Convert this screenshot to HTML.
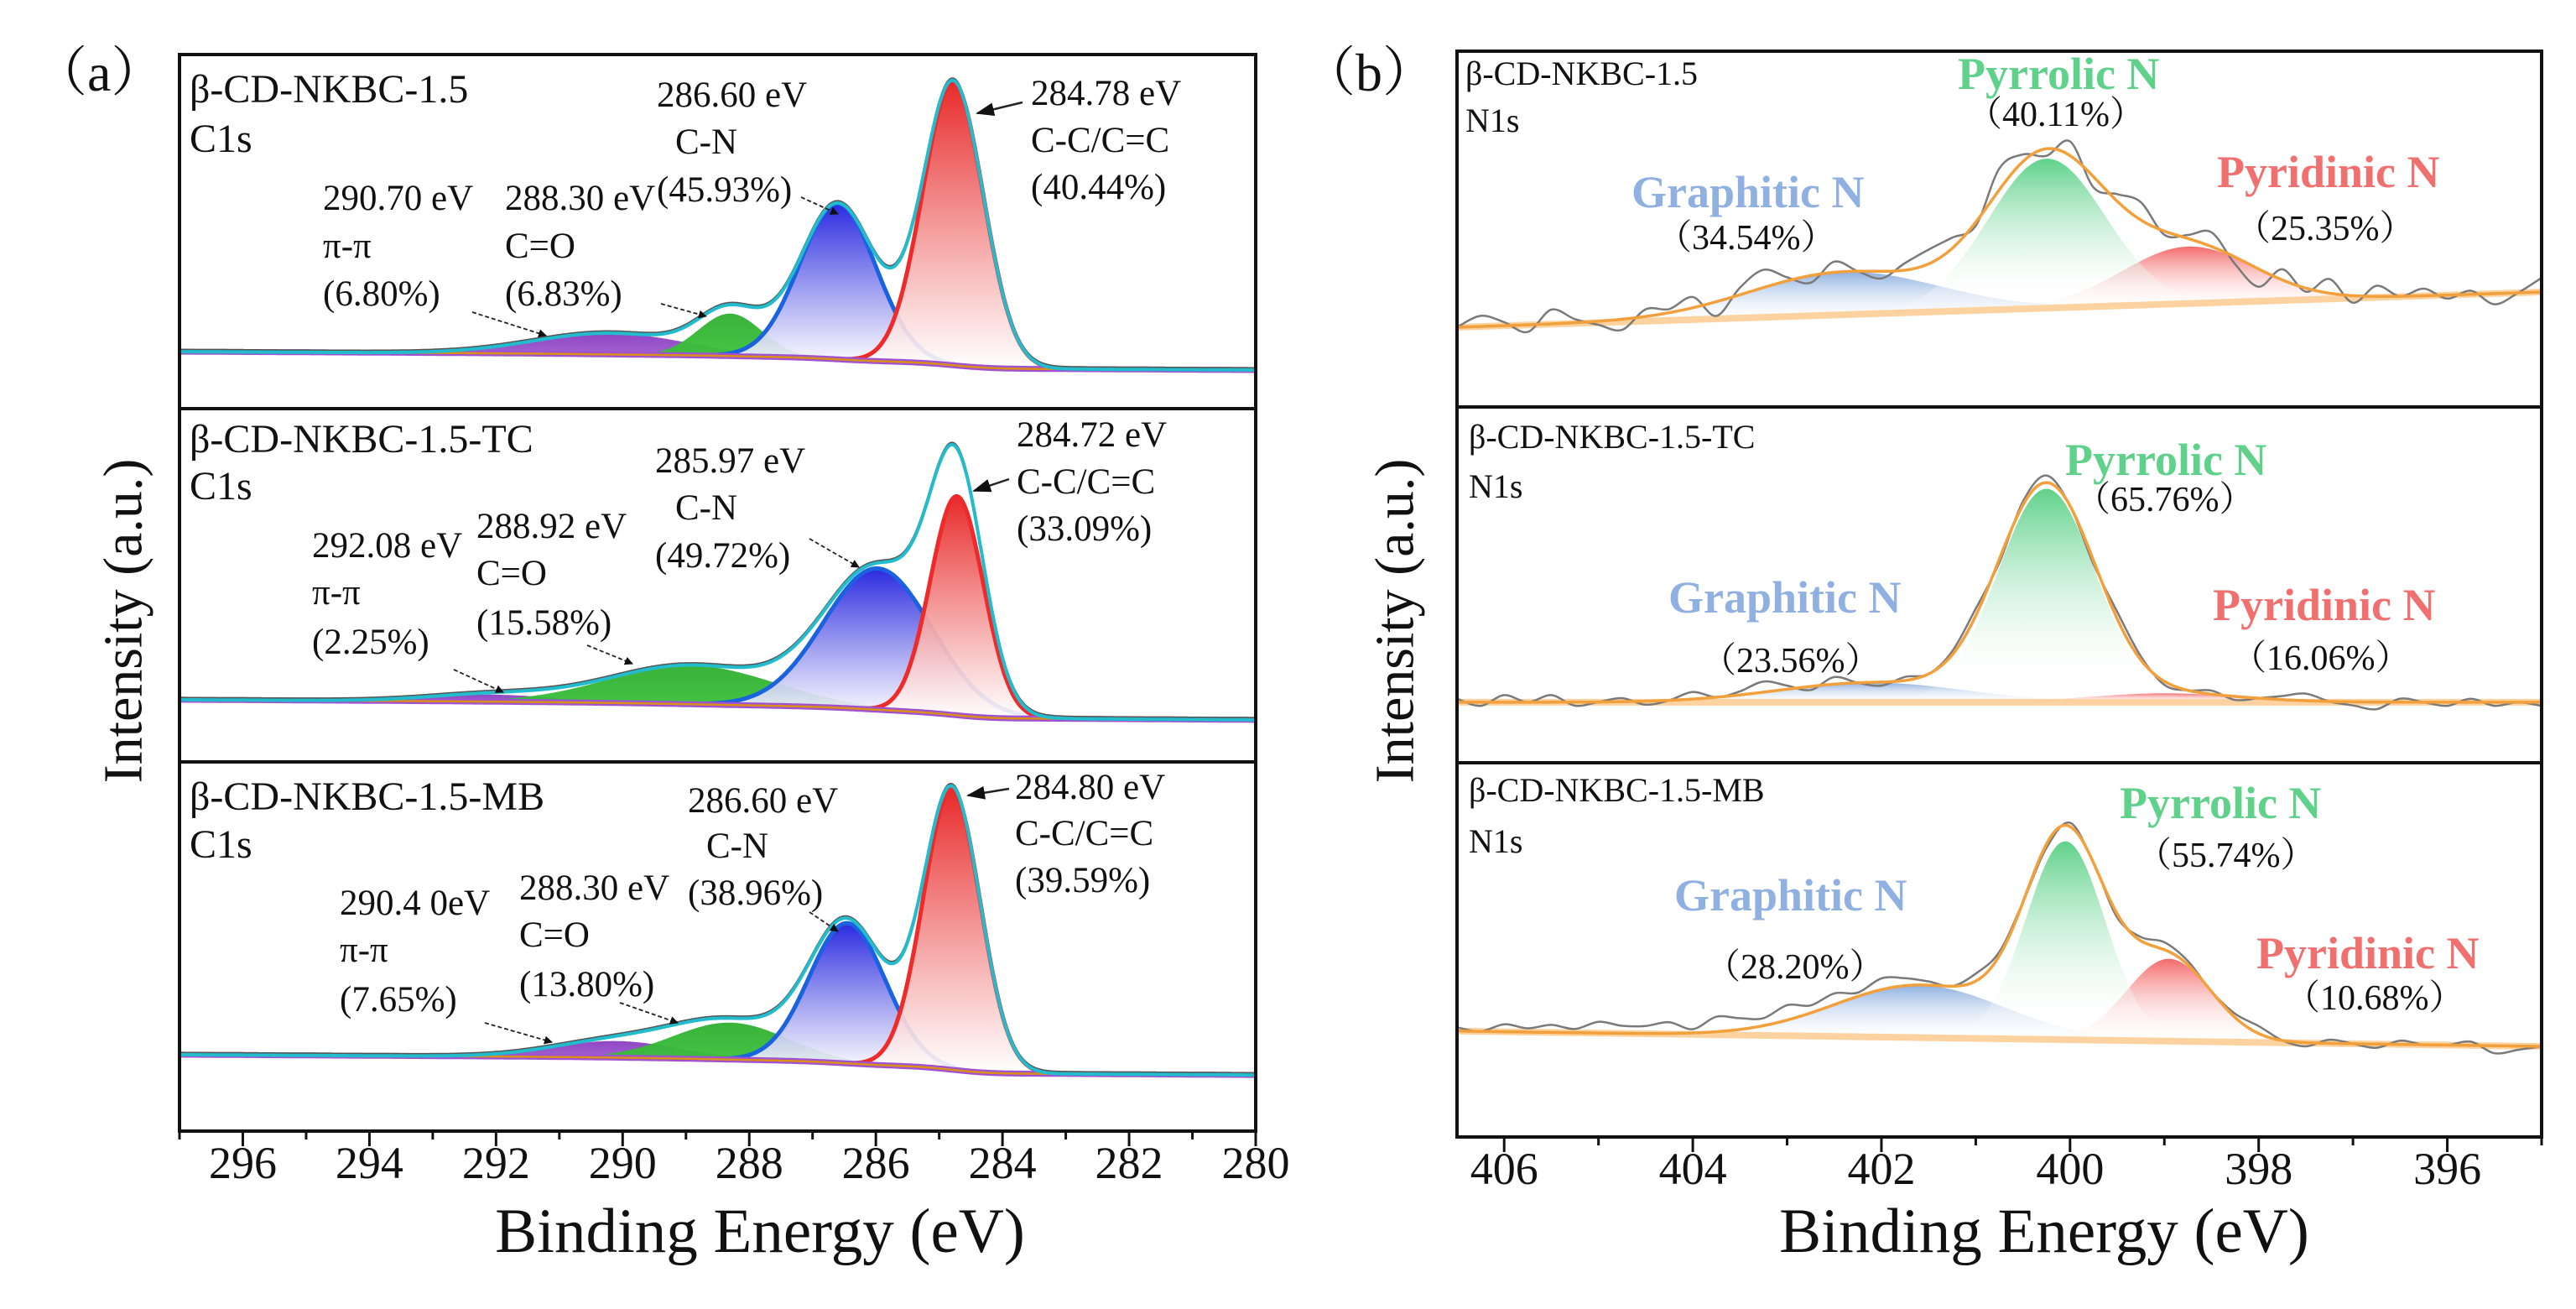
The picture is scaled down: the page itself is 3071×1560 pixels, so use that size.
<!DOCTYPE html>
<html><head><meta charset="utf-8"><title>XPS C1s and N1s</title>
<style>
html,body{margin:0;padding:0;background:#fff;}
svg{display:block;font-family:"Liberation Serif",serif;}
</style></head>
<body>
<svg id="fig" width="3071" height="1560" viewBox="0 0 3071 1560" xmlns="http://www.w3.org/2000/svg">
<defs>
<linearGradient id="gRed" x1="0" y1="0" x2="0" y2="1"><stop offset="0" stop-color="#e82a2a"/><stop offset="1" stop-color="#ffffff" stop-opacity="0.9"/></linearGradient>
<linearGradient id="gBlue" x1="0" y1="0" x2="0" y2="1"><stop offset="0" stop-color="#2a2ae0"/><stop offset="1" stop-color="#ffffff" stop-opacity="0.9"/></linearGradient>
<linearGradient id="gGreen" x1="0" y1="0" x2="0" y2="1"><stop offset="0" stop-color="#2fae2f"/><stop offset="1" stop-color="#3cc43c"/></linearGradient>
<linearGradient id="gPurple" x1="0" y1="0" x2="0" y2="1"><stop offset="0" stop-color="#8a3cc0"/><stop offset="1" stop-color="#a060d0"/></linearGradient>
<linearGradient id="nGreen" x1="0" y1="0" x2="0" y2="1"><stop offset="0" stop-color="#5fd18a"/><stop offset="0.85" stop-color="#ffffff" stop-opacity="0.3"/><stop offset="1" stop-color="#ffffff" stop-opacity="0"/></linearGradient>
<linearGradient id="nRed" x1="0" y1="0" x2="0" y2="1"><stop offset="0" stop-color="#f46a6a"/><stop offset="1" stop-color="#ffffff" stop-opacity="0.1"/></linearGradient>
<linearGradient id="nBlue" x1="0" y1="0" x2="0" y2="1"><stop offset="0" stop-color="#8fb0e0"/><stop offset="1" stop-color="#ffffff" stop-opacity="0.1"/></linearGradient>
<marker id="arr" markerWidth="10" markerHeight="10" refX="9" refY="5" orient="auto" markerUnits="userSpaceOnUse"><path d="M0,0 L10,5 L0,10 z" fill="#111"/></marker>
<marker id="arrBig" markerWidth="22" markerHeight="16" refX="20" refY="8" orient="auto" markerUnits="userSpaceOnUse"><path d="M0,0 L22,8 L0,16 z" fill="#111"/></marker>
</defs>
<g id="plots"></g>
<g id="frames"></g>
<g id="texts" font-size="42" fill="#111"></g>
</svg>
<script>
// ===== Data =====
// C1s panel (a): components [C-C/C=C (red), C-N (blue), C=O (green), pi-pi (purple)]
const cTicks = [296, 294, 292, 290, 288, 286, 284, 282, 280];
const cCenters1 = [284.78, 286.6, 288.3, 290.2];
const cAmps1 = [80, 44, 12, 6];
const cSigmas1 = [0.48, 0.6, 0.5, 1.2];
const cBg1 = [16.1, 10.9];
const cCenters2 = [284.72, 285.97, 288.92, 292.08];
const cAmps2 = [62, 40, 11, 2];
const cSigmas2 = [0.42, 0.85, 1.3, 1.0];
const cBg2 = [17.6, 11.9];
const cCenters3 = [284.8, 286.45, 288.3, 290.1];
const cAmps3 = [76, 38, 10, 4.5];
const cSigmas3 = [0.45, 0.6, 0.9, 1.0];
const cBg3 = [20.7, 15.2];
// N1s panel (b): components [Pyrrolic (green), Pyridinic (red), Graphitic (blue)]
const nTicks = [406, 404, 402, 400, 398, 396];
const nCenters1 = [400.25, 398.75, 402.4];
const nAmps1 = [42, 16, 12];
const nSigmas1 = [0.62, 0.7, 1.0];
const nBg1 = [22.4, 32.3];
const nCenters2 = [400.25, 399.0, 402.1];
const nAmps2 = [60, 2.5, 5.5];
const nSigmas2 = [0.52, 0.8, 1.0];
const nBg2 = [17, 17];
const nCenters3 = [400.05, 398.95, 401.6];
const nAmps3 = [53, 22, 14];
const nSigmas3 = [0.42, 0.45, 0.9];
const nBg3 = [28.3, 24.2];
// raw-signal residual noise, every 0.25 eV from 406.5 down to 395.0
const nNoise1 = [0,3,1,-2,4,1,-1,-3,2,1,3,-4,2,5,1,-2,3,0,-2,2,4,3,-1,6,2,-2,4,-3,2,5,-1,1,4,-2,-5,3,-1,4,-2,3,0,2,-1,1,-3,0,4];
const nNoise2 = [1,-1,2,0,2,-1,0,1,-1,0,2,0,1,3,1,-1,2,0,-1,1,0,1,2,-1,1,2,0,-1,2,1,-1,0,1,-1,0,1,2,0,-1,-2,1,0,-1,1,-1,0,-1];
const nNoise3 = [1,0,2,1,2,1,3,2,2,3,1,4,3,2,4,2,3,1,3,2,1,0,2,1,0,-1,1,0,-1,1,2,1,0,1,2,0,-1,1,0,-1,1,0,0,1,-2,-1,0];

// ===== Helpers =====
const NS = "http://www.w3.org/2000/svg";
const plots = document.getElementById('plots');
const frames = document.getElementById('frames');
function mk(tag, attrs, parent){ const e=document.createElementNS(NS,tag); for(const k in attrs) e.setAttribute(k,attrs[k]); (parent||plots).appendChild(e); return e; }
function gauss(E,c,a,s){ return a*Math.exp(-0.5*((E-c)/s)*((E-c)/s)); }
function makeScale(eMax,eMin,x0,x1){ return E => x0 + (eMax-E)/(eMax-eMin)*(x1-x0); }
function makeY(top,bot){ return v => bot - v*(bot-top)/100; }
function pathFrom(pts){ return pts.map((p,i)=>(i?'L':'M')+p[0].toFixed(1)+','+p[1].toFixed(1)).join(''); }

function drawC(sp, centers, amps, sigmas, bg, top, bot, idx){
  const X = makeScale(297, 280, 214, 1497), Y = makeY(top, bot);
  const Es = [];
  for(let E=297; E>=280-1e-9; E-=0.02) Es.push(+E.toFixed(3));
  const env = Es.map(E => centers.reduce((s,c,i)=>s+gauss(E,c,amps[i],sigmas[i]),0));
  const total = env.reduce((a,b)=>a+b,0); let cum = total; const bgv = [];
  for(let i=0;i<Es.length;i++){ bgv.push(bg[1] + (bg[0]-bg[1])*(cum/total)*0.7 + (bg[0]-bg[1])*0.3*(280-Es[i])/(280-297)); cum -= env[i]; }
  const g = mk('g', {});
  
  
  const fills = ['url(#gRed)','url(#gBlue)','url(#gGreen)','url(#gPurple)'];
  const strokes = ['#ee2a2a','#1a62e0','none','none'];
  const names = ['cc-peak','cn-peak','co-peak','pipi-peak'];
  for(let k=3;k>=0;k--){
    const up = [], dn = [];
    Es.forEach((E,i)=>{ const v=gauss(E,centers[k],amps[k],sigmas[k]); if(v>0.05){ up.push([X(E),Y(bgv[i]+v)]); dn.push([X(E),Y(bgv[i])]); } });
    const d = pathFrom(up.concat(dn.reverse())) + 'Z';
    const p = mk('path', {d:d, fill:fills[k], opacity: k>=2?0.95:1}, g);
    
    
    if(strokes[k]!=='none'){
      const s = mk('path', {d:pathFrom(up), fill:'none', stroke:strokes[k], 'stroke-width':5}, g);
      
      
    }
  }
  const bl = mk('path', {d:pathFrom(Es.map((E,i)=>[X(E),Y(bgv[i])])), fill:'none', stroke:'#a050d0', 'stroke-width':7}, g);
  
  
  const bl2 = mk('path', {d:pathFrom(Es.map((E,i)=>[X(E),Y(bgv[i])])), fill:'none', stroke:'#d8901a', 'stroke-width':2.5}, g);
  
  
  const raw = mk('path', {d:pathFrom(Es.map((E,i)=>[X(E),Y(bgv[i]+env[i])-2])), fill:'none', stroke:'#555', 'stroke-width':3}, g);
  
  
  const ev = mk('path', {d:pathFrom(Es.map((E,i)=>[X(E),Y(bgv[i]+env[i])])), fill:'none', stroke:'#22bccc', 'stroke-width':4}, g);
  
  
}

function drawN(sp, centers, amps, sigmas, bg, noise, top, bot, idx){
  const X = makeScale(406.5, 395, 1737, 3030), Y = makeY(top, bot);
  const Es = [];
  for(let E=406.5; E>=395-1e-9; E-=0.02) Es.push(+E.toFixed(3));
  const bgAt = E => bg[0] + (bg[1]-bg[0])*(406.5-E)/(406.5-395);
  const env = E => centers.reduce((s,c,i)=>s+gauss(E,c,amps[i],sigmas[i]),0);
  const g = mk('g', {});
  
  
  const fills = ['url(#nGreen)','url(#nRed)','url(#nBlue)'];
  const names = ['pyrrolic-peak','pyridinic-peak','graphitic-peak'];
  for(let k=2;k>=0;k--){
    const up=[], dn=[];
    Es.forEach(E=>{ const v=gauss(E,centers[k],amps[k],sigmas[k]); if(v>0.3){ up.push([X(E),Y(bgAt(E)+v)]); dn.push([X(E),Y(bgAt(E))]); } });
    const p = mk('path', {d:pathFrom(up.concat(dn.reverse()))+'Z', fill:fills[k]}, g);
    
    
  }
  const bl = mk('path', {d:pathFrom(Es.map(E=>[X(E),Y(bgAt(E))])), fill:'none', stroke:'#fcd3a0', 'stroke-width':8}, g);
  
  
  const pts = noise.map((n,i)=>{ const E=406.5-0.25*i; return [X(E), Y(bgAt(E)+env(E)+n)]; });
  let d = 'M'+pts[0][0].toFixed(1)+','+pts[0][1].toFixed(1);
  for(let i=0;i<pts.length-1;i++){
    const p0=pts[Math.max(i-1,0)], p1=pts[i], p2=pts[i+1], p3=pts[Math.min(i+2,pts.length-1)];
    d += 'C'+(p1[0]+(p2[0]-p0[0])/6).toFixed(1)+','+(p1[1]+(p2[1]-p0[1])/6).toFixed(1)+' '+(p2[0]-(p3[0]-p1[0])/6).toFixed(1)+','+(p2[1]-(p3[1]-p1[1])/6).toFixed(1)+' '+p2[0].toFixed(1)+','+p2[1].toFixed(1);
  }
  const raw = mk('path', {d:d, fill:'none', stroke:'#7a7a7a', 'stroke-width':2.5}, g);
  
  
  const ev = mk('path', {d:pathFrom(Es.map(E=>[X(E),Y(bgAt(E)+env(E))])), fill:'none', stroke:'#f2a03c', 'stroke-width':3.5}, g);
  
  
}

drawC(0, cCenters1, cAmps1, cSigmas1, cBg1, 65, 487, 1);
drawC(1, cCenters2, cAmps2, cSigmas2, cBg2, 487, 908, 2);
drawC(2, cCenters3, cAmps3, cSigmas3, cBg3, 908, 1348, 3);
drawN(0, nCenters1, nAmps1, nSigmas1, nBg1, nNoise1, 61, 485, 1);
drawN(1, nCenters2, nAmps2, nSigmas2, nBg2, nNoise2, 485, 909, 2);
drawN(2, nCenters3, nAmps3, nSigmas3, nBg3, nNoise3, 909, 1355, 3);

// ===== Frames & axes =====
function frame(x0,x1,tops,bot,ticks,eMax,eMin,name){
  const r = mk('rect',{x:x0,y:tops[0],width:x1-x0,height:bot-tops[0],fill:'none',stroke:'#111','stroke-width':4},frames);
  
  
  for(let i=1;i<tops.length;i++){
    const l = mk('line',{x1:x0,x2:x1,y1:tops[i],y2:tops[i],stroke:'#111','stroke-width':4},frames);
    
    
  }
  const X = makeScale(eMax,eMin,x0,x1);
  for(let E=Math.floor(eMax); E>=Math.ceil(eMin); E--){
    const major = ticks.indexOf(E)>=0;
    const t = mk('line',{x1:X(E),x2:X(E),y1:bot,y2:bot+(major?18:10),stroke:'#111','stroke-width':3},frames);
    
    
  }
  ticks.forEach(E=>{
    const t = mk('text',{x:X(E),y:bot+56,'text-anchor':'middle','font-size':54,fill:'#111'},frames);
    t.textContent = E;
    
    
  });
}
frame(214,1497,[65,487,908],1348,cTicks,297,280,'c1s');
frame(1737,3030,[61,485,909],1355,nTicks,406.5,395,'n1s');
</script>
<script>
// ===== Static text labels =====
const T = document.getElementById('texts');
const CJK = '"Liberation Serif","Noto Serif CJK SC","Noto Sans CJK SC",serif';
const items = [
 ['panel-a-label',40,108,'（a）',64,'#111','normal','start',1],
 ['panel-b-label',1552,108,'（b）',64,'#111','normal','start',1],
 ['c1s-sample-1',226,122,'β-CD-NKBC-1.5',48],
 ['c1s-core-1',226,181,'C1s',48],
 ['c1s-sample-2',226,539,'β-CD-NKBC-1.5-TC',48],
 ['c1s-core-2',226,595,'C1s',48],
 ['c1s-sample-3',226,965,'β-CD-NKBC-1.5-MB',48],
 ['c1s-core-3',226,1022,'C1s',48],
 ['ann-1-cn-ev',783,127,'286.60 eV',43],['ann-1-cn',805,183,'C-N',43],['ann-1-cn-pct',783,240,'(45.93%)',43],
 ['ann-1-cc-ev',1229,125,'284.78 eV',43],['ann-1-cc',1229,181,'C-C/C=C',43],['ann-1-cc-pct',1229,237,'(40.44%)',43],
 ['ann-1-pp-ev',385,250,'290.70 eV',43],['ann-1-pp',385,307,'π-π',43],['ann-1-pp-pct',385,364,'(6.80%)',43],
 ['ann-1-co-ev',602,250,'288.30 eV',43],['ann-1-co',602,307,'C=O',43],['ann-1-co-pct',602,364,'(6.83%)',43],
 ['ann-2-cn-ev',781,563,'285.97 eV',43],['ann-2-cn',805,619,'C-N',43],['ann-2-cn-pct',781,676,'(49.72%)',43],
 ['ann-2-cc-ev',1212,532,'284.72 eV',43],['ann-2-cc',1212,588,'C-C/C=C',43],['ann-2-cc-pct',1212,644,'(33.09%)',43],
 ['ann-2-pp-ev',372,664,'292.08 eV',43],['ann-2-pp',372,720,'π-π',43],['ann-2-pp-pct',372,779,'(2.25%)',43],
 ['ann-2-co-ev',568,641,'288.92 eV',43],['ann-2-co',568,697,'C=O',43],['ann-2-co-pct',568,756,'(15.58%)',43],
 ['ann-3-cn-ev',820,968,'286.60 eV',43],['ann-3-cn',842,1022,'C-N',43],['ann-3-cn-pct',820,1078,'(38.96%)',43],
 ['ann-3-cc-ev',1210,952,'284.80 eV',43],['ann-3-cc',1210,1007,'C-C/C=C',43],['ann-3-cc-pct',1210,1063,'(39.59%)',43],
 ['ann-3-pp-ev',405,1090,'290.4 0eV',43],['ann-3-pp',405,1146,'π-π',43],['ann-3-pp-pct',405,1205,'(7.65%)',43],
 ['ann-3-co-ev',619,1072,'288.30 eV',43],['ann-3-co',619,1128,'C=O',43],['ann-3-co-pct',619,1187,'(13.80%)',43],
 ['n1s-sample-1',1747,101,'β-CD-NKBC-1.5',40],['n1s-core-1',1747,157,'N1s',40],
 ['n1s-sample-2',1751,534,'β-CD-NKBC-1.5-TC',40],['n1s-core-2',1751,593,'N1s',40],
 ['n1s-sample-3',1751,955,'β-CD-NKBC-1.5-MB',40],['n1s-core-3',1751,1016,'N1s',40],
 ['pyrrolic-1',2334,106,'Pyrrolic N',54,'#5fd18a','bold'],['pyrrolic-pct-1',2345,150,'（40.11%）',42,'#111','normal','start',1],
 ['graphitic-1',1945,247,'Graphitic N',54,'#8fb0e0','bold'],['graphitic-pct-1',1975,297,'（34.54%）',42,'#111','normal','start',1],
 ['pyridinic-1',2643,223,'Pyridinic N',54,'#f07070','bold'],['pyridinic-pct-1',2665,286,'（25.35%）',42,'#111','normal','start',1],
 ['pyrrolic-2',2462,566,'Pyrrolic N',54,'#5fd18a','bold'],['pyrrolic-pct-2',2474,609,'（65.76%）',42,'#111','normal','start',1],
 ['graphitic-2',1989,730,'Graphitic N',54,'#8fb0e0','bold'],['graphitic-pct-2',2028,801,'（23.56%）',42,'#111','normal','start',1],
 ['pyridinic-2',2638,739,'Pyridinic N',54,'#f07070','bold'],['pyridinic-pct-2',2660,798,'（16.06%）',42,'#111','normal','start',1],
 ['pyrrolic-3',2527,975,'Pyrrolic N',54,'#5fd18a','bold'],['pyrrolic-pct-3',2547,1033,'（55.74%）',42,'#111','normal','start',1],
 ['graphitic-3',1996,1085,'Graphitic N',54,'#8fb0e0','bold'],['graphitic-pct-3',2033,1166,'（28.20%）',42,'#111','normal','start',1],
 ['pyridinic-3',2690,1154,'Pyridinic N',54,'#f07070','bold'],['pyridinic-pct-3',2724,1203,'（10.68%）',42,'#111','normal','start',1],
 ['c1s-x-axis-title',906,1492,'Binding Energy (eV)',75,'#111','normal','middle'],
 ['n1s-x-axis-title',2437,1492,'Binding Energy (eV)',75,'#111','normal','middle']
];
items.forEach(it=>{
  const t = document.createElementNS("http://www.w3.org/2000/svg",'text');
  t.setAttribute('x', it[1]); t.setAttribute('y', it[2]);
  t.setAttribute('font-size', it[4]); t.setAttribute('fill', it[5]||'#111');
  t.setAttribute('font-weight', it[6]||'normal'); t.setAttribute('text-anchor', it[7]||'start');
  if(it[8]) t.setAttribute('font-family', CJK);
  t.textContent = it[3];
  
  
  T.appendChild(t);
});
[['c1s-y-axis-title',147,740],['n1s-y-axis-title',1663,740]].forEach(a=>{
  const t = document.createElementNS("http://www.w3.org/2000/svg",'text');
  t.setAttribute('x',0); t.setAttribute('y',0); t.setAttribute('font-size',66); t.setAttribute('fill','#111');
  t.setAttribute('text-anchor','middle'); t.setAttribute('dominant-baseline','central');
  t.setAttribute('transform','translate('+a[1]+','+a[2]+') rotate(-90)');
  t.textContent = 'Intensity (a.u.)';
  
  
  T.appendChild(t);
});
const arrows = [[1219,122,1165,135,1],[955,235,999,255,0],[563,372,651,400,0],[788,362,842,377,0],
 [1203,571,1161,585,1],[965,642,1024,676,0],[541,798,600,825,0],[700,769,754,791,0],
 [1203,940,1154,948,1],[965,1087,999,1110,0],[578,1219,658,1242,0],[739,1195,808,1219,0]];
arrows.forEach(a=>{
  const l = document.createElementNS("http://www.w3.org/2000/svg",'line');
  l.setAttribute('x1',a[0]); l.setAttribute('y1',a[1]); l.setAttribute('x2',a[2]); l.setAttribute('y2',a[3]);
  l.setAttribute('stroke','#222'); l.setAttribute('stroke-width', a[4]?2.5:1.8);
  if(!a[4]) l.setAttribute('stroke-dasharray','5,3');
  l.setAttribute('marker-end', a[4]?'url(#arrBig)':'url(#arr)');
  
  
  T.appendChild(l);
});
</script>
</body></html>
